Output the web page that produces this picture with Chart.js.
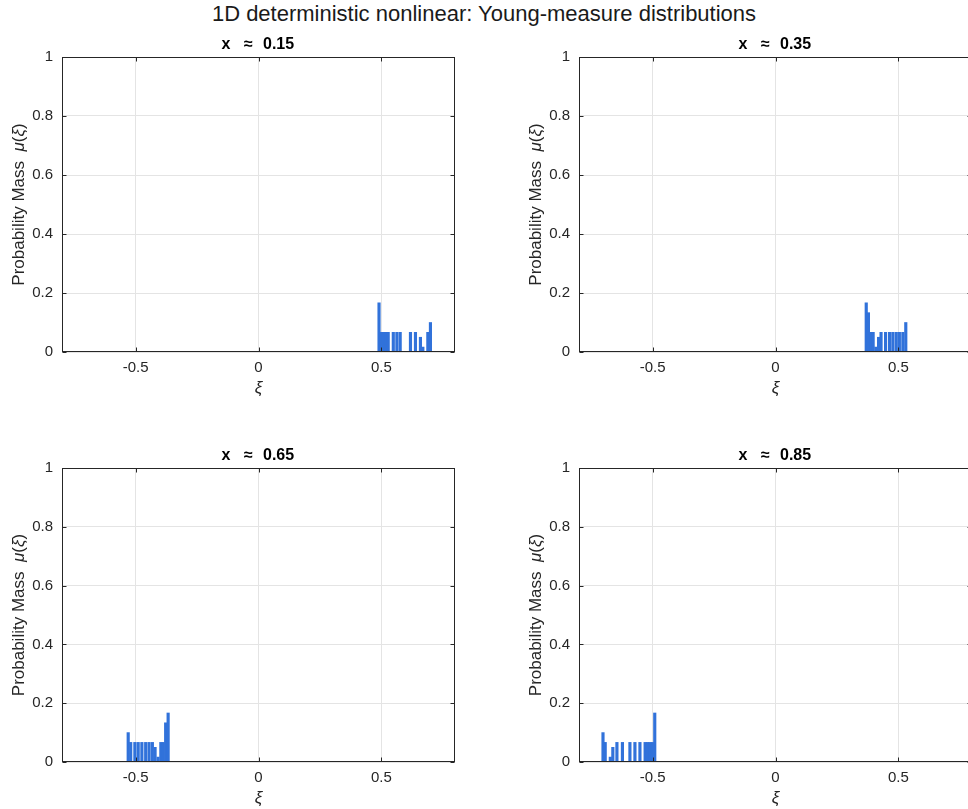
<!DOCTYPE html>
<html><head><meta charset="utf-8">
<script src="https://cdn.jsdelivr.net/npm/chart.js@4.4.1/dist/chart.umd.min.js"></script>
<style>
html,body{margin:0;padding:0;background:#fff;overflow:hidden;width:968px;height:809px;}
#wrap{position:relative;width:968px;height:809px;overflow:hidden;background:#fff;}
canvas{position:absolute;}
#title{position:absolute;left:0;top:1px;width:968px;text-align:center;font:22px "Liberation Sans",Arial,sans-serif;color:#1a1a1a;line-height:26px;}
</style></head><body>
<div id="wrap">
<div id="title">1D deterministic nonlinear: Young-measure distributions</div>
<canvas id="c1" width="484" height="400" style="left:0;top:0"></canvas>
<canvas id="c2" width="484" height="400" style="left:517px;top:0"></canvas>
<canvas id="c3" width="484" height="400" style="left:0;top:410px"></canvas>
<canvas id="c4" width="484" height="400" style="left:517px;top:410px"></canvas>
</div>
<script>
// ---- data (atoms of the Young measure: support point xi and probability mass) ----
const panelLabels = ['0.15', '0.35', '0.65', '0.85'];

const xi_015   = [0.4907, 0.4996, 0.5089, 0.5183, 0.5280, 0.5488, 0.5634, 0.5768, 0.6187, 0.6390, 0.6593, 0.6691, 0.6894, 0.7000];
const mass_015 = [0.1667, 0.0667, 0.0667, 0.0667, 0.0667, 0.0667, 0.0667, 0.0667, 0.0667, 0.0667, 0.0500, 0.0167, 0.0667, 0.1000];

const xi_035   = [0.3694, 0.3784, 0.3881, 0.3975, 0.4086, 0.4196, 0.4297, 0.4481, 0.4644, 0.4778, 0.4916, 0.5043, 0.5185, 0.5304];
const mass_035 = [0.1667, 0.1333, 0.0667, 0.0667, 0.0167, 0.0500, 0.0667, 0.0667, 0.0667, 0.0667, 0.0667, 0.0667, 0.0667, 0.1000];

const xi_065   = [-0.5305, -0.5203, -0.5033, -0.4898, -0.4748, -0.4593, -0.4455, -0.4321, -0.4211, -0.4089, -0.3976, -0.3882, -0.3780, -0.3679];
const mass_065 = [0.1000, 0.0667, 0.0667, 0.0667, 0.0667, 0.0667, 0.0667, 0.0667, 0.0500, 0.0167, 0.0667, 0.0667, 0.1333, 0.1667];

const xi_085   = [-0.7023, -0.6933, -0.6725, -0.6623, -0.6456, -0.6232, -0.5927, -0.5723, -0.5519, -0.5308, -0.5210, -0.5112, -0.5014, -0.4916];
const mass_085 = [0.1000, 0.0667, 0.0167, 0.0500, 0.0667, 0.0667, 0.0667, 0.0667, 0.0667, 0.0667, 0.0667, 0.0667, 0.0667, 0.1667];

const xTicks = [-0.5, 0, 0.5];
const yTicks = [0, 0.2, 0.4, 0.6, 0.8, 1];
const xRange = [-0.8, 0.8];
const yRange = [0, 1];

// ---- drawing ----
const FONT = '"Liberation Sans", Arial, Helvetica, sans-serif';
const AXIS_COLOR = '#262626';

const decor = {
  id: 'decor',
  afterDraw(chart, args, opts) {
    const ctx = chart.ctx, a = chart.chartArea, x = chart.scales.x, y = chart.scales.y;
    ctx.save();
    ctx.strokeStyle = AXIS_COLOR;
    ctx.lineWidth = 1;
    const L = Math.round(a.left) + 0.5, R = Math.round(a.right) - 0.5;
    const T = Math.round(a.top) + 0.5, B = Math.round(a.bottom) - 0.5;
    ctx.strokeRect(L, T, R - L, B - T);
    ctx.beginPath();
    xTicks.forEach(v => {
      const px = Math.round(x.getPixelForValue(v)) + 0.5;
      ctx.moveTo(px, B); ctx.lineTo(px, B - 4);
      ctx.moveTo(px, T); ctx.lineTo(px, T + 4);
    });
    yTicks.forEach(v => {
      const py = Math.round(y.getPixelForValue(v)) + 0.5;
      ctx.moveTo(L, py); ctx.lineTo(L + 4, py);
      ctx.moveTo(R, py); ctx.lineTo(R - 4, py);
    });
    ctx.stroke();

    // subplot title: "x  ≈ value" (bold)
    const cx = (a.left + a.right) / 2;
    const ty = a.top - 12;
    ctx.fillStyle = '#000';
    ctx.textBaseline = 'middle';
    ctx.font = 'bold 16px ' + FONT;
    ctx.textAlign = 'center';
    ctx.fillText('x', cx - 32.5, ty);
    ctx.fillText('\u2248', cx - 10, ty);
    ctx.textAlign = 'left';
    ctx.fillText(opts.label, cx + 4.5, ty);

    // x label
    ctx.fillStyle = AXIS_COLOR;
    ctx.textAlign = 'center';
    ctx.font = 'italic 17px ' + FONT;
    ctx.fillText('\u03BE', cx, a.bottom + 36);

    // y label with mixed italic parts
    const parts = [['Probability Mass  ', ''], ['\u03BC', 'italic '], ['(', ''], ['\u03BE', 'italic '], [')', '']];
    let total = 0;
    parts.forEach(p => { ctx.font = p[1] + '17px ' + FONT; total += ctx.measureText(p[0]).width; });
    ctx.translate(19, (a.top + a.bottom) / 2);
    ctx.rotate(-Math.PI / 2);
    ctx.textAlign = 'left';
    let pos = -total / 2;
    parts.forEach(p => { ctx.font = p[1] + '17px ' + FONT; ctx.fillText(p[0], pos, 0); pos += ctx.measureText(p[0]).width; });
    ctx.restore();
  }
};

function makeChart(id, xs, ms, label, topPad) {
  const pts = xs.map((v, i) => ({ x: v, y: ms[i] }));
  return new Chart(document.getElementById(id), {
    type: 'bar',
    data: { datasets: [{ data: pts, backgroundColor: 'rgb(49,114,218)', borderWidth: 0, barThickness: 2.5 }] },
    options: {
      responsive: false, animation: false, devicePixelRatio: 1,
      layout: { padding: { left: 0, top: topPad, right: 29, bottom: 0 } },
      plugins: { legend: { display: false }, tooltip: { enabled: false }, decor: { label: label } },
      scales: {
        x: {
          type: 'linear', min: xRange[0], max: xRange[1], offset: false,
          afterBuildTicks: s => { s.ticks = xTicks.map(v => ({ value: v })); },
          afterFit: s => { s.height = 48; },
          ticks: { callback: v => String(v), color: AXIS_COLOR, font: { family: FONT, size: 15 }, padding: 7, maxRotation: 0, autoSkip: false },
          grid: { color: '#e4e4e4', drawTicks: false, lineWidth: 1, offset: false },
          border: { display: false }
        },
        y: {
          min: yRange[0], max: yRange[1],
          afterBuildTicks: s => { s.ticks = yTicks.map(v => ({ value: v })); },
          afterFit: s => { s.width = 62; },
          ticks: { callback: v => String(v), color: AXIS_COLOR, font: { family: FONT, size: 15 }, padding: 9, autoSkip: false },
          grid: { color: '#e4e4e4', drawTicks: false, lineWidth: 1, offset: false },
          border: { display: false }
        }
      }
    },
    plugins: [decor]
  });
}

makeChart('c1', xi_015, mass_015, panelLabels[0], 57);
makeChart('c2', xi_035, mass_035, panelLabels[1], 57);
makeChart('c3', xi_065, mass_065, panelLabels[2], 58);
makeChart('c4', xi_085, mass_085, panelLabels[3], 58);
</script>
</body></html>
